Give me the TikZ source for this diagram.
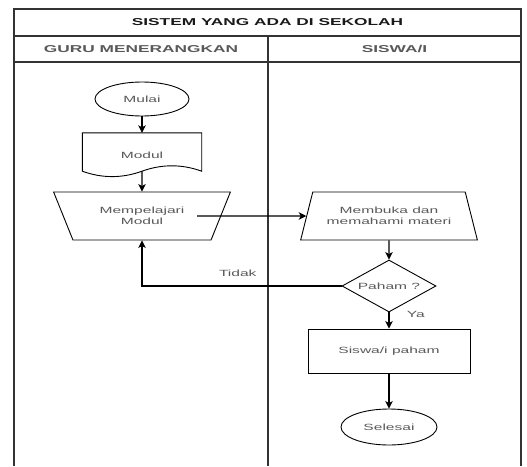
\documentclass[tikz,border=0pt]{standalone}
\usepackage{fontspec}
\setmainfont[FakeStretch=1.73]{Liberation Sans}
\usetikzlibrary{arrows.meta, shapes.geometric}

\begin{document}
\begin{tikzpicture}[x=1pt, y=1pt, >={Stealth[length=7.5pt, width=7.5pt, inset=2pt]},
	font=\fontsize{9}{11}\selectfont, text=black!65,
	lane/.style={draw=black!80, line width=1.4pt},
	head/.style={font=\fontsize{10}{12}\selectfont\bfseries},
	box/.style={draw=black, line width=0.9pt, inner sep=0pt, align=center},
	flow/.style={line width=1.1pt}]
	\useasboundingbox (0, 0) rectangle (527, -466);

	% swimlane
	\draw[lane] (14, -466) -- (14, -9) -- (521, -9) -- (521, -466);
	\draw[lane] (14, -36) -- (521, -36);
	\draw[lane] (14, -62) -- (521, -62);
	\draw[lane] (268, -36) -- (268, -466);
	\node[head, text=black!90] (judul) at (267.5, -22.5) {SISTEM YANG ADA DI SEKOLAH};
	\node[head] (guru) at (141, -49) {GURU MENERANGKAN};
	\node[head] (siswa) at (394.5, -49) {SISWA/I};

	% guru
	\node[box, ellipse, minimum width=94, minimum height=34] (mulai) at (142, -99) {Mulai};
	\node[inner sep=0pt, minimum width=119, minimum height=44] (modul) at (142, -155) {Modul};
	\draw[box] (modul.north west) -- (modul.north east) -- ([yshift=6pt]modul.south east)
		.. controls +(-19.8, 7.2) and +(19.8, 7.2) .. ([yshift=6pt]modul.south)
		.. controls +(-19.8, -7.2) and +(19.8, -7.2) .. ([yshift=6pt]modul.south west) -- cycle;
	\node[box, trapezium, trapezium angle=56, shape border rotate=180, trapezium stretches=true,
		minimum width=177, minimum height=48] (mp) at (142, -216) {Mempelajari\\Modul};

	% siswa
	\node[box, trapezium, trapezium angle=60.6, trapezium stretches=true,
		minimum width=177, minimum height=48] (mb) at (389, -216) {Membuka dan\\memahami materi};
	\node[box, diamond, aspect=1.8, minimum width=94, minimum height=52] (pham) at (389, -286) {Paham ?};
	\node[box, minimum width=162, minimum height=44] (sp) at (389, -351) {Siswa/i paham};
	\node[box, ellipse, minimum width=96, minimum height=36] (selesai) at (389, -427) {Selesai};

	\path[->, flow] (mulai) edge (modul)
		([yshift=6pt]modul.south) edge (mp)
		([xshift=55pt]mp.center) edge (mb.west)
		(mb) edge (pham)
		(pham) edge node[pos=.12, right=14pt] {Ya} (sp)
		(sp) edge (selesai);
	\draw[->, flow] (pham.west) -| node[pos=.26, above=6pt] {Tidak} (mp.south);
\end{tikzpicture}
\end{document}
